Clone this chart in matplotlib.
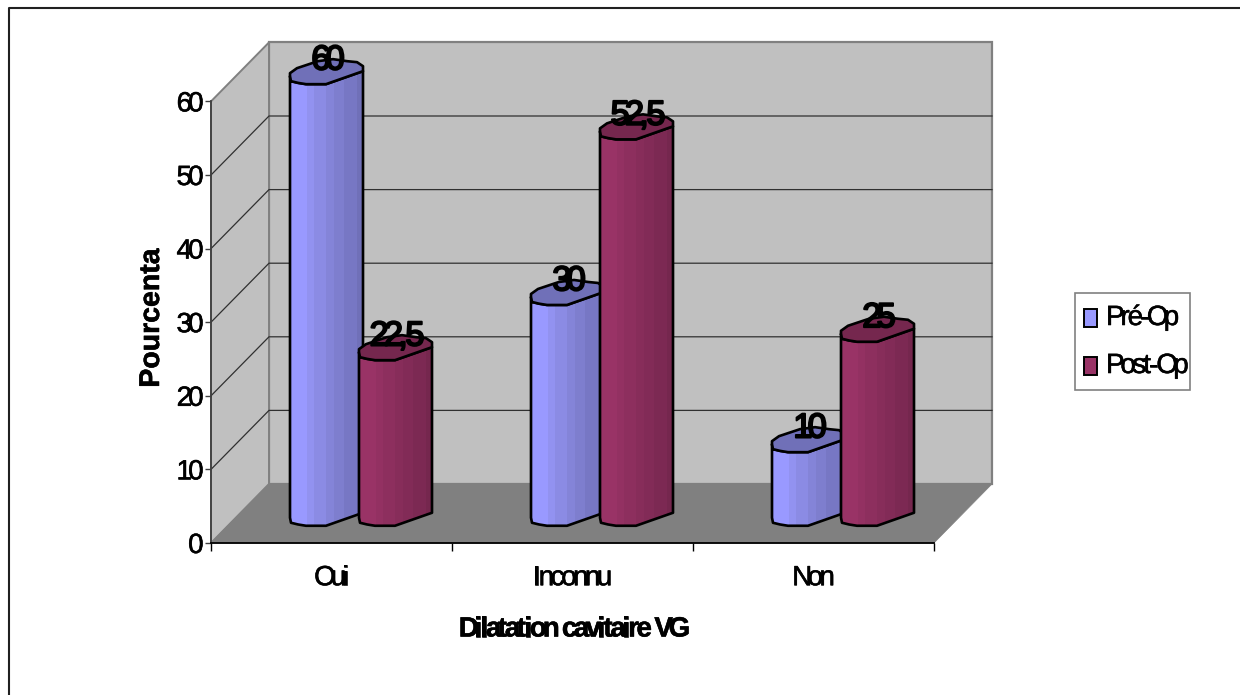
import matplotlib
matplotlib.use('Agg')
import matplotlib.pyplot as plt
import matplotlib.patheffects as pe
from matplotlib.lines import Line2D
from matplotlib.patches import Polygon, Rectangle
from matplotlib.text import Text
from matplotlib.transforms import IdentityTransform, offset_copy

plt.rcParams['font.family'] = ['Liberation Sans', 'DejaVu Sans']

categories = ['Oui', 'Inconnu', 'Non']
series_names = ['Pré-Op', 'Post-Op']
pre_op = [60, 30, 10]
post_op = [22.5, 52.5, 25]
y_ticks = [0, 10, 20, 30, 40, 50, 60]

# faces des colonnes, du clair au sombre
pre_shades = ['#9999FF', '#9292F0', '#8B8BE4', '#8484D8', '#7E7ECE', '#7777C4', '#7070B8']
post_shades = ['#993366', '#933162', '#8D2F5E', '#872D5A', '#822B57', '#7C2953', '#75274E']
pre_top = '#7070B8'
post_top = '#75274E'
wall = '#C0C0C0'
floor = '#808080'


class TightText(Text):
    # texte aux lettres resserrees : chaque avance est multipliee par squeeze
    squeeze = 0.77

    def draw(self, renderer):
        s = self.get_text()
        if not self.get_visible() or not s:
            return
        fp = self.get_fontproperties()
        measure = lambda t: renderer.get_text_width_height_descent(t, fp, False)
        box = self.get_window_extent(renderer)
        advances = [measure(s[:k + 1])[0] - measure(s[:k])[0] if k else measure(s[0])[0]
                    for k in range(len(s))]
        total = sum(advances[:-1]) * self.squeeze + advances[-1]
        ha = self.get_ha()
        if ha == 'center':
            x = (box.x0 + box.x1 - total) / 2
        elif ha == 'right':
            x = box.x1 - total
        else:
            x = box.x0
        y = box.y0 + max(measure(s)[2], measure('lp')[2])
        for c, adv in zip(s, advances):
            t = Text(x, y, c, fontproperties=fp, color=self.get_color(), ha='left', va='baseline',
                     transform=IdentityTransform(), path_effects=self.get_path_effects())
            t.set_figure(self.get_figure())
            t.draw(renderer)
            x += adv * self.squeeze


W, H = 1240, 695
fig = plt.figure(figsize=(W / 100, H / 100), dpi=100)
ax = fig.add_axes([211 / W, (H - 543) / H, 723 / W, 441.6 / H])
ax.set_xlim(0, 3)
ax.set_ylim(0, 60)
ax.patch.set_visible(False)

# echelle en pixels et profondeur de la vue oblique
px_x = 723 / 3
px_y = 441.6 / 60
depth_x = 58 / px_x
depth_y = 59 / px_y


def proj(x, v, d=0.0):
    return (x + d * depth_x, v + d * depth_y)


# murs et sol
corners = [(0, 0, 1), (3, 0, 1), (3, 60, 1), (0, 60, 1)]
ax.add_patch(Polygon([proj(*c) for c in corners], fc=wall, ec=floor, lw=1.6, clip_on=False, zorder=1))
side = [(0, 0, 0), (0, 0, 1), (0, 60, 1), (0, 60, 0)]
ax.add_patch(Polygon([proj(*c) for c in side], fc=wall, ec=floor, lw=1.4, clip_on=False, zorder=1))
ground = [(0, 0, 0), (0, 0, 1), (3, 0, 1), (3, 0, 0)]
ax.add_patch(Polygon([proj(*c) for c in ground], fc=floor, ec=floor, lw=0.5, clip_on=False, zorder=2))

for t in y_ticks[1:-1]:
    a, b, c = proj(0, t), proj(0, t, 1), proj(3, t, 1)
    ax.plot([a[0], b[0], c[0]], [a[1], b[1], c[1]], color='#303030', lw=0.9, clip_on=False, zorder=2)

# contour de la section d'une colonne, en pixels autour de son centre
front_x = [-36, -35, -28, -20, 0, 37]
front_y = [-5, -10, -11.7, -13, -13, 0]
back_x = [37, 31, 21, 7, -8, -29, -36]
back_y = [5, 9, 10, 12, 10, 3, -2]
band_edges = [-36, -19, -12, 0, 8, 18, 31, 37]


def draw_column(center, value, shades, top_color, z):
    base = depth_y / 2 + 0.1
    xc = center + depth_x / 2
    low = [(xc + x / px_x, base + y / px_y) for x, y in zip(front_x, front_y)]
    high = [(xc + x / px_x, base + value + y / px_y) for x, y in zip(front_x, front_y)]
    body = Polygon(low + high[::-1], fc='none', ec='black', lw=1.9, joinstyle='round',
                   clip_on=False, zorder=z + 0.2)
    ax.add_patch(body)
    for i, color in enumerate(shades):
        left = xc + band_edges[i] / px_x
        width = (band_edges[i + 1] - band_edges[i]) / px_x
        bars = ax.bar(left, value + 4, width, bottom=base - 2, align='edge', color=color,
                      lw=0, zorder=z + 0.1)
        bars[0].set_clip_box(None)
        bars[0].set_clip_path(body)
    rim = high + [(xc + x / px_x, base + value + y / px_y) for x, y in zip(back_x, back_y)]
    ax.add_patch(Polygon(rim, fc=top_color, ec='black', lw=1.9, joinstyle='round',
                         clip_on=False, zorder=z + 0.3))
    return xc, base


def value_label(v):
    return f'{v:g}'.replace('.', ',')


label_pos = offset_copy(ax.transData, fig=fig, x=1.5, y=8, units='points')
for i in range(len(categories)):
    for offset, vals, shades, top, z in [(-34.5, pre_op, pre_shades, pre_top, 3),
                                         (34.5, post_op, post_shades, post_top, 4 + i)]:
        center = i + 0.5 + offset / px_x
        xc, base = draw_column(center, vals[i], shades, top, z)
        lab = TightText(xc, base + vals[i], value_label(vals[i]), fontsize=25, color='black',
                        ha='center', va='center', transform=label_pos, zorder=20,
                        path_effects=[pe.withStroke(linewidth=1.4, foreground='black')])
        lab.squeeze = 0.74
        ax.add_artist(lab)

# axes
for s in ['top', 'right']:
    ax.spines[s].set_visible(False)
ax.spines['left'].set_color('#404040')
ax.spines['left'].set_linewidth(1.3)
ax.spines['bottom'].set_color('black')
ax.spines['bottom'].set_linewidth(1.3)
ax.spines['left'].set_zorder(6)
ax.spines['bottom'].set_zorder(6)
ax.set_yticks(y_ticks)
ax.set_yticklabels([str(t) for t in y_ticks], fontsize=20)
ax.set_xticks([0, 1, 2, 3])
ax.set_xticklabels([])
ax.set_xticks([0.5, 1.5, 2.5], minor=True)
ax.set_xticklabels(categories, minor=True, fontsize=20)
ax.tick_params(axis='y', length=4.3, width=1, color='#404040', pad=1)
ax.tick_params(axis='x', which='major', length=5.8, width=1, color='black')
ax.tick_params(axis='x', which='minor', length=0, pad=16)
thicker = [pe.withStroke(linewidth=0.4, foreground='black')]
for lab in ax.get_yticklabels():
    lab.__class__ = TightText
    lab.squeeze = 0.75
    lab.set_path_effects(thicker)
for lab in ax.get_xticklabels(minor=True):
    lab.__class__ = TightText
    lab.squeeze = 0.77
    lab.set_path_effects(thicker)

fig.text(152 / W, 1 - 318 / H, 'Pourcenta', rotation=90, fontsize=20.5, fontweight='bold',
         ha='center', va='center', path_effects=thicker)
xlab = TightText(574.5 / W, 1 - 629.5 / H, 'Dilatation cavitaire VG', fontsize=20, fontweight='bold',
                 ha='center', va='center', transform=fig.transFigure, path_effects=thicker)
xlab.squeeze = 0.77
fig.add_artist(xlab)

# legende
fig.add_artist(Rectangle((1075 / W, 1 - 390 / H), 115 / W, 97 / H, transform=fig.transFigure,
                         fc='white', ec='#808080', lw=1.2))
for k, (name, color) in enumerate(zip(series_names, [pre_shades[0], post_shades[0]])):
    yc = 1 - (318 + 48 * k) / H
    fig.add_artist(Rectangle((1084 / W, yc - 9 / H), 13 / W, 18 / H, transform=fig.transFigure,
                             fc=color, ec='black', lw=1.4))
    entry = TightText(1106 / W, yc, name, fontsize=20, ha='left', va='center',
                      transform=fig.transFigure, path_effects=thicker)
    entry.squeeze = 0.78
    fig.add_artist(entry)

# cadre du graphique, ouvert en bas et a droite
fig.add_artist(Line2D([9 / W, 9 / W, 1], [0, 1 - 8 / H, 1 - 8 / H], color='#202020', lw=1.5))

fig.savefig('out.png', dpi=100)
